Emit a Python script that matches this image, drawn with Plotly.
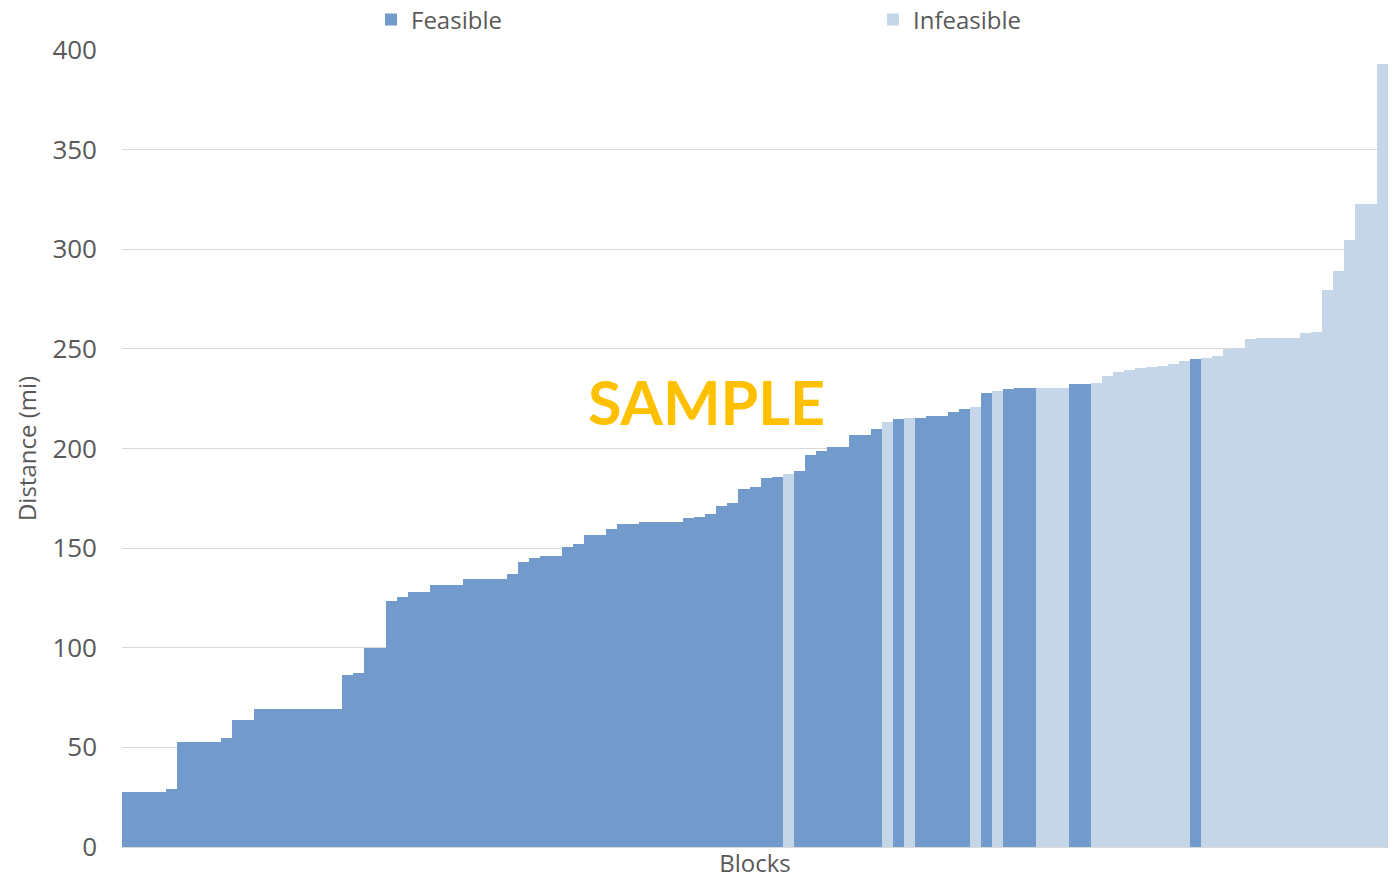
import plotly.graph_objects as go

# Distance per block, sorted ascending (miles)
distances = [
    27.7, 27.7, 27.7, 27.7, 29.0, 52.9, 52.9, 52.9, 52.9, 54.7,
    63.6, 63.6, 69.1, 69.1, 69.1, 69.1, 69.1, 69.1, 69.1, 69.1,
    86.3, 87.5, 99.7, 99.7, 123.6, 125.5, 128.1, 128.1, 131.5, 131.5,
    131.5, 134.3, 134.3, 134.3, 134.3, 137.2, 143.2, 145.0, 146.0, 146.0,
    150.4, 152.2, 156.6, 156.6, 159.4, 162.2, 162.2, 163.3, 163.3, 163.3,
    163.3, 165.3, 165.8, 167.3, 171.3, 172.8, 179.7, 180.8, 185.0, 185.7,
    187.4, 188.6, 196.9, 198.6, 200.8, 200.8, 206.8, 206.8, 209.6, 213.3,
    214.6, 215.1, 215.2, 216.3, 216.3, 218.2, 219.7, 220.8, 228.0, 228.7,
    229.7, 230.2, 230.2, 230.2, 230.2, 230.2, 232.5, 232.5, 233.1, 236.4,
    238.6, 239.2, 240.2, 240.9, 241.6, 242.2, 243.8, 244.8, 245.6, 246.4,
    249.8, 250.3, 254.8, 255.5, 255.5, 255.5, 255.5, 257.8, 258.3, 279.5,
    289.1, 304.5, 322.9, 322.9, 393.0,
]

# Feasibility of each block: "F" = feasible, "I" = infeasible
status = (
    ["F"] * 60 + ["I"] + ["F"] * 8 + ["I", "F", "I"] + ["F"] * 5
    + ["I", "F", "I"] + ["F"] * 3 + ["I"] * 3 + ["F"] * 2 + ["I"] * 9
    + ["F"] + ["I"] * 17
)

series_names = {"F": "Feasible", "I": "Infeasible"}
series_colors = {"F": "#729ACB", "I": "#C5D6E9"}
series_legends = {"F": "legend", "I": "legend2"}

blocks = list(range(len(distances)))

fig = go.Figure()
for key in ["F", "I"]:
    xs = [b for b, s in zip(blocks, status) if s == key]
    ys = [d for d, s in zip(distances, status) if s == key]
    fig.add_trace(go.Bar(
        x=xs, y=ys, name=series_names[key], width=1,
        marker=dict(color=series_colors[key], line=dict(width=0)),
        legend=series_legends[key],
    ))

font_family = "'Open Sans', sans-serif"
gray = "#595959"

legend_style = dict(
    orientation="h", xref="container", yref="container", xanchor="left",
    y=1 - 20 / 879, yanchor="middle", font=dict(size=24, color=gray),
    bgcolor="rgba(0,0,0,0)", borderwidth=0,
)

fig.update_layout(
    width=1394, height=879,
    margin=dict(l=122, r=6, t=50, b=32, autoexpand=False),
    barmode="overlay", bargap=0,
    paper_bgcolor="white", plot_bgcolor="white",
    font=dict(family=font_family, color=gray, size=24),
    showlegend=True,
    legend=dict(legend_style, x=371 / 1394),
    legend2=dict(legend_style, x=873 / 1394),
    xaxis=dict(
        range=[-0.5, len(distances) - 0.5], showticklabels=False, ticks="",
        showgrid=False, zeroline=False, showline=True, linecolor="#D9D9D9",
        linewidth=1,
        title=dict(text="Blocks", font=dict(size=24, color=gray), standoff=10),
    ),
    yaxis=dict(
        range=[0, 400], tickvals=[0, 50, 100, 150, 200, 250, 300, 350, 400],
        showgrid=True, gridcolor="#D9D9D9", gridwidth=1, zeroline=False,
        ticks="", ticklabelstandoff=24,
        tickfont=dict(size=26, color=gray),
        title=dict(text="Distance (mi)", font=dict(size=24, color=gray), standoff=8),
    ),
    annotations=[dict(
        text="<b>SAMPLE</b>", xref="paper", yref="paper", x=0.462, y=0.559,
        showarrow=False, font=dict(family="Lato, sans-serif", size=61, color="#FFC000"),
    )],
)

fig.write_html("out.html")
